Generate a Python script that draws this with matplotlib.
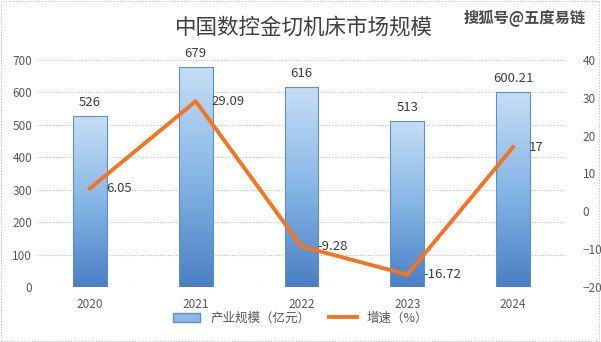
import numpy as np
import matplotlib
matplotlib.use('Agg')
import matplotlib.pyplot as plt
from matplotlib.colors import LinearSegmentedColormap
from matplotlib.patches import Rectangle
from matplotlib.lines import Line2D

plt.rcParams['font.family'] = ['Noto Sans CJK SC', 'DejaVu Sans']

years = ['2020', '2021', '2022', '2023', '2024']
scale = [526, 679, 616, 513, 600.21]
scale_labels = ['526', '679', '616', '513', '600.21']
growth = [6.05, 29.09, -9.28, -16.72, 17]
growth_labels = ['6.05', '29.09', '-9.28', '-16.72', '17']

fig = plt.figure(figsize=[6.01, 3.42], dpi=100)
ax = fig.add_axes([37/601, 1-287/342, (566-37)/601, (287-60)/342])
ax2 = ax.twinx()

x = np.arange(len(years))
w = 0.32
cmap = LinearSegmentedColormap.from_list('bar', ['#4a7fc4', '#86b6e6', '#c6def5'])
grad = np.linspace(0, 1, 256).reshape(-1, 1)
for xi, v in zip(x, scale):
  im = ax.imshow(grad, cmap=cmap, aspect='auto', origin='lower',
                 extent=[xi-w/2, xi+w/2, 0, v], zorder=2)
  rect = Rectangle((xi-w/2, 0), w, v, facecolor='none', edgecolor='#5b8fd0', linewidth=0.8, zorder=3)
  ax.add_patch(rect)
  im.set_clip_path(rect)
for xi, v, s in zip(x, scale, scale_labels):
  ax.text(xi, v+22, s, ha='center', va='bottom', fontsize=9.5, color='#404040')

ax.set_xlim(-0.5, 4.5)
ax.set_ylim(0, 700)
ax.set_yticks(np.arange(0, 701, 100))
ax.set_xticks(x)
ax.set_xticklabels(years)
ax.grid(axis='y', linestyle=(0, (1, 1.5)), color='#bfbfbf', linewidth=0.8)
ax.set_axisbelow(True)

ax2.plot(x, growth, color='#f47421', linewidth=2.8, zorder=5)
for xi, g, s in zip(x, growth, growth_labels):
  ax2.text(xi+0.15, g, s, ha='left', va='center', fontsize=9.5, color='#404040')
ax2.set_ylim(-20, 40)
ax2.set_yticks(np.arange(-20, 41, 10))

for a in (ax, ax2):
  for sp in a.spines.values():
    sp.set_visible(False)
  a.tick_params(axis='both', length=0, labelsize=8.5, labelcolor='#595959')
ax.tick_params(axis='x', pad=8)
ax2.tick_params(axis='y', pad=12)

fig.text(0.505, 0.918, '中国数控金切机床市场规模', ha='center', va='center', fontsize=15.5, color='#404040')
fig.text(0.873, 0.945, '搜狐号@五度易链', ha='center', va='center', fontsize=11, color='#4a4a4a', fontweight='bold')

handles = [Rectangle((0, 0), 1, 1, facecolor='#8bb8e6', edgecolor='#5b8fd0'),
           Line2D([0], [0], color='#f47421', linewidth=2.8)]
fig.legend(handles, ['产业规模（亿元）', '增速（%）'], loc='center', bbox_to_anchor=(0.5, 1-318/342),
           ncol=2, frameon=False, fontsize=9, handlelength=2.2, columnspacing=1.5, labelcolor='#595959')

fig.patches.append(Rectangle((0.002, 0.003), 0.995, 0.994, transform=fig.transFigure, fill=False,
                             edgecolor='#bfbfbf', linestyle=(0, (1, 1.5)), linewidth=0.8))

fig.savefig('out.png', dpi=100)
